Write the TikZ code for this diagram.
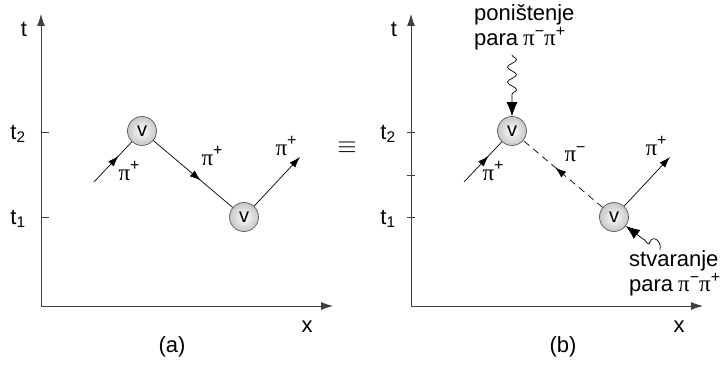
\documentclass[tikz,border=0pt]{standalone}
\usepackage{fontspec}
\setmainfont{Liberation Sans}
\newfontfamily\grk{Liberation Serif}
\newcommand{\myup}[1]{\raisebox{0.42em}{\fontsize{16}{16}\selectfont #1}}
\newcommand{\pip}{{\grk\fontsize{23}{26}\selectfont π}\myup{+}}
\newcommand{\pim}{{\grk\fontsize{23}{26}\selectfont π}\myup{−}}
\usetikzlibrary{arrows.meta,decorations.markings,decorations.pathmorphing}
\begin{document}
\begin{tikzpicture}[x=1pt,y=-1pt,
  every node/.style={font=\fontsize{22}{26}\selectfont, inner sep=0pt},
  axis/.style={line width=0.8pt, draw=black!75, -{Latex[length=12pt,width=8pt]}},
  tick/.style={line width=0.7pt, draw=black!75},
  vtx/.style={circle, draw=black!70, line width=0.6pt, minimum size=29pt,
    shading=radial, inner color=white, outer color=gray!45, font=\fontsize{20}{22}\selectfont},
  midarrow/.style={decoration={markings, mark=at position #1 with {\arrow{Latex[length=11pt,width=7.5pt]}}}, postaction=decorate},
  line/.style={line width=0.7pt},
  tiparrow/.style={-{Latex[length=11pt,width=7.5pt]}},
  bigtip/.style={-{Latex[length=14pt,width=11pt]}},
  lbl/.style={font=\fontsize{22}{26}\selectfont},
  pilbl/.style={font=\fontsize{22}{26}\selectfont},
  note/.style={font=\fontsize{22}{23}\selectfont, anchor=west}
]
\useasboundingbox (0,0) rectangle (721,385);

% ---------- panel (a) ----------
\coordinate (Ao) at (41,306);
\coordinate (Atop) at (41,14);
\coordinate (Aright) at (333,306);
\draw[axis] (Ao) -- (Atop);
\draw[axis] (Ao) -- (Aright);
\coordinate (At2) at (41,132); \coordinate (At2e) at (49,132);
\coordinate (At1) at (41,217); \coordinate (At1e) at (49,217);
\draw[tick] (At2) -- (At2e);
\draw[tick] (At1) -- (At1e);
\node[lbl] (tA) at (24,29) {t};
\node[lbl] (t2A) at (18,134) {t\textsubscript{2}};
\node[lbl] (t1A) at (18,219) {t\textsubscript{1}};
\node[lbl] (xA) at (307,327) {x};
\node[lbl] (capA) at (172,347) {(a)};

\node[vtx] (va1) at (142,131) {v};
\node[vtx] (va2) at (244,217) {v};
\coordinate (ain) at (94,182);
\coordinate (aout) at (300,157);
\draw[line, midarrow=0.65] (ain) -- (va1);
\draw[line, midarrow=0.6] (va1) -- (va2);
\draw[line, tiparrow] (va2) -- (aout);
\node[pilbl] (pa1) at (129,171) {\pip};
\node[pilbl] (pa2) at (212,156) {\pip};
\node[pilbl] (pa3) at (286,146) {\pip};

\node[font=\fontsize{28}{28}\selectfont] (eq) at (347,148) {$\equiv$};

% ---------- panel (b) ----------
\coordinate (Bo) at (411,306);
\coordinate (Btop) at (411,14);
\coordinate (Bright) at (703,306);
\draw[axis] (Bo) -- (Btop);
\draw[axis] (Bo) -- (Bright);
\foreach \yy/\nm in {132/a,175/b,217/c}{
  \coordinate (Bk\nm1) at (407,\yy); \coordinate (Bk\nm2) at (415,\yy);
  \draw[tick] (Bk\nm1) -- (Bk\nm2);
}
\node[lbl] (tB) at (394,29) {t};
\node[lbl] (t2B) at (388,134) {t\textsubscript{2}};
\node[lbl] (t1B) at (388,219) {t\textsubscript{1}};
\node[lbl] (xB) at (679,327) {x};
\node[lbl] (capB) at (563,347) {(b)};

\node[vtx] (vb1) at (512,131) {v};
\node[vtx] (vb2) at (614,217) {v};
\coordinate (bin) at (464,182);
\coordinate (bout) at (670,157);
\draw[line, midarrow=0.65] (bin) -- (vb1);
\draw[line, dash pattern=on 7pt off 5pt, midarrow=0.6] (vb2) -- (vb1);
\draw[line, tiparrow] (vb2) -- (bout);
\node[pilbl] (pb1) at (493,171) {\pip};
\node[pilbl] (pb2) at (575,154) {\pim};
\node[pilbl] (pb3) at (656,146) {\pip};

% annotation: annihilation
\node[note] (ann1) at (474,15) {poništenje};
\node[note] (ann2) at (474,39) {para\hspace{5pt}\pim\pip};
\coordinate (wtop) at (512,55);
\draw[line width=0.7pt, bigtip, decorate,
  decoration={snake, amplitude=4.5pt, segment length=15pt, post length=16pt}]
  (wtop) -- (vb1);

% annotation: creation
\node[note] (cr1) at (629,261) {stvaranje};
\node[note] (cr2) at (629,285) {para\hspace{5pt}\pim\pip};
\coordinate (wb) at (660,250);
\coordinate (wb2) at (643,239);
\draw[line width=0.7pt] (wb) .. controls (662,240) and (652,235) .. (650,242)
  .. controls (648,248) and (645,238) .. (wb2);
\draw[line width=0.7pt, bigtip] (wb2) -- (vb2);

\end{tikzpicture}
\end{document}
